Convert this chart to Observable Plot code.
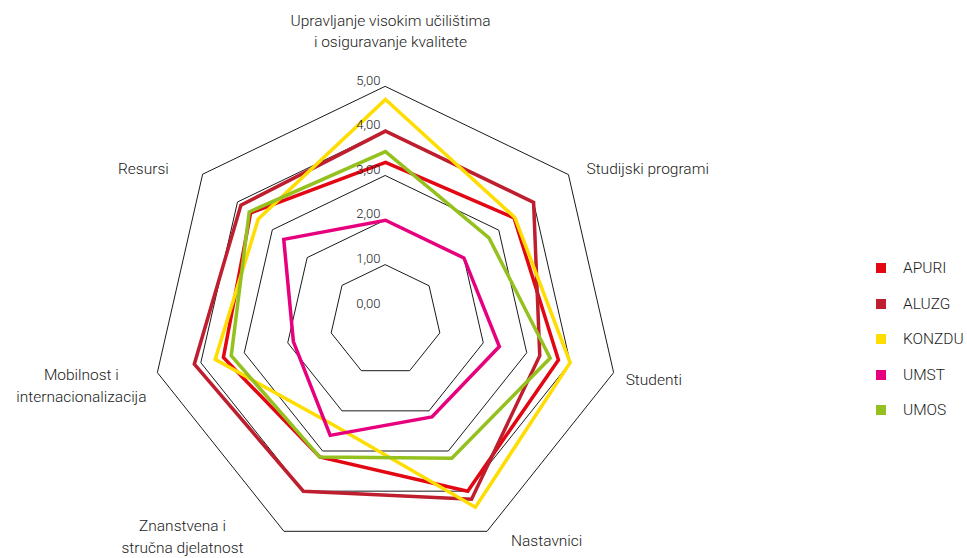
<!DOCTYPE html>
<html>
<head>
<meta charset="utf-8">
<script src="https://cdn.jsdelivr.net/npm/d3@7"></script>
<script src="https://cdn.jsdelivr.net/npm/@observablehq/plot@0.6"></script>
<style>
  body { margin: 0; background: #fff; }
  #wrap { position: relative; width: 967px; height: 558px; font-family: Roboto, "Liberation Sans", sans-serif; }
  #legend { position: absolute; left: 876px; top: 250px; }
  .item { position: absolute; left: 0; height: 20px; white-space: nowrap; }
  .sw { position: absolute; left: 0; top: 5px; width: 10px; height: 10px; }
  .lab { position: absolute; left: 27px; top: 0; font-size: 15.5px; font-weight: 300; line-height: 20px; color: #1a1a1a; }
</style>
</head>
<body>
<div id="wrap"></div>
<script>
// ---- data ----
const axisLabels = [
  "Upravljanje visokim učilištima\ni osiguravanje kvalitete",
  "Studijski programi",
  "Studenti",
  "Nastavnici",
  "Znanstvena i\nstručna djelatnost",
  "Mobilnost i\ninternacionalizacija",
  "Resursi"
];
const seriesNames = ["APURI", "ALUZG", "KONZDU", "UMST", "UMOS"];
const seriesColors = ["#e30613", "#be1e2d", "#ffdd00", "#e6007e", "#95c11f"];
const APURI  = [3.30, 3.44, 3.73, 4.00, 3.15, 3.48, 3.62];
const ALUZG  = [4.00, 4.00, 3.30, 4.20, 4.00, 4.15, 3.90];
const KONZDU = [4.71, 3.46, 4.00, 4.40, 2.37, 3.67, 3.40];
const UMST   = [2.00, 2.00, 2.37, 2.15, 2.61, 1.87, 2.67];
const UMOS   = [3.54, 2.72, 3.54, 3.18, 3.15, 3.30, 3.66];
const gridLevels = [1, 2, 3, 4, 5];
const tickValues = [0, 1, 2, 3, 4, 5];
const tickLabels = ["0,00", "1,00", "2,00", "3,00", "4,00", "5,00"];

// ---- layout (style, not data) ----
const W = 967, H = 558;
const cx = 385, cy = 320, pxPerUnit = 234 / 5.25;
const rMin = -0.25; // radial axis starts slightly below 0
const labelLayout = [
  {anchor: "middle", dx: 5,     dy: -57},
  {anchor: "start",  dx: 18,    dy: -7.4},
  {anchor: "start",  dx: 12,    dy: 5.2},
  {anchor: "start",  dx: 24,    dy: 8.2},
  {anchor: "middle", dx: -101.5,dy: 3.4},
  {anchor: "middle", dx: -76,   dy: 11.2},
  {anchor: "end",    dx: -33.8, dy: -7.4}
];

const n = axisLabels.length;
const ang = (k) => (2 * Math.PI * k) / n;
const rad = (v) => v - rMin;
const px = (k, v) => rad(v) * Math.sin(ang(k));
const py = (k, v) => rad(v) * Math.cos(ang(k));

const seriesValues = [APURI, ALUZG, KONZDU, UMST, UMOS];
const rows = [];
seriesNames.forEach((s, i) => seriesValues[i].forEach((v, k) => rows.push({series: s, k, v})));
const gridRows = [];
gridLevels.forEach((lv) => axisLabels.forEach((_, k) => gridRows.push({lv, k})));

const textColor = "#1a1a1a";
const labelMarks = axisLabels.map((t, k) =>
  Plot.text([k], {
    x: (d) => px(d, 5), y: (d) => py(d, 5), text: () => t,
    textAnchor: labelLayout[k].anchor, dx: labelLayout[k].dx, dy: labelLayout[k].dy,
    lineAnchor: "middle", lineHeight: 1.4, fontSize: 15.5, fontWeight: 300, fill: textColor
  })
);

const chart = Plot.plot({
  width: W, height: H, margin: 0,
  x: {domain: [-cx / pxPerUnit, (W - cx) / pxPerUnit], range: [0, W], axis: null},
  y: {domain: [-(H - cy) / pxPerUnit, cy / pxPerUnit], range: [H, 0], axis: null},
  color: {domain: seriesNames, range: seriesColors},
  style: {fontFamily: 'Roboto, "Liberation Sans", sans-serif', background: "#fff", overflow: "visible"},
  marks: [
    Plot.line(gridRows, {x: (d) => px(d.k, d.lv), y: (d) => py(d.k, d.lv), z: "lv", curve: "linear-closed", stroke: "#1a1a1a", strokeWidth: 1}),
    Plot.line(rows, {x: (d) => px(d.k, d.v), y: (d) => py(d.k, d.v), z: "series", stroke: "series", curve: "linear-closed", strokeWidth: 3.5, strokeLinejoin: "miter", strokeMiterlimit: 10}),
    Plot.text(tickValues, {x: () => 0, y: (v) => py(0, v), text: (v, i) => tickLabels[i], textAnchor: "end", dx: -5, dy: -6, fontSize: 13, fontWeight: 300, fill: textColor}),
    ...labelMarks
  ]
});

const wrap = document.getElementById("wrap");
wrap.appendChild(chart);

// legend
const legend = document.createElement("div");
legend.id = "legend";
seriesNames.forEach((s, i) => {
  const item = document.createElement("div");
  item.className = "item";
  item.style.top = (i * 35.5 + 8) + "px";
  const sw = document.createElement("div");
  sw.className = "sw";
  sw.style.background = seriesColors[i];
  const lab = document.createElement("div");
  lab.className = "lab";
  lab.textContent = s;
  item.appendChild(sw);
  item.appendChild(lab);
  legend.appendChild(item);
});
wrap.appendChild(legend);
</script>
</body>
</html>
